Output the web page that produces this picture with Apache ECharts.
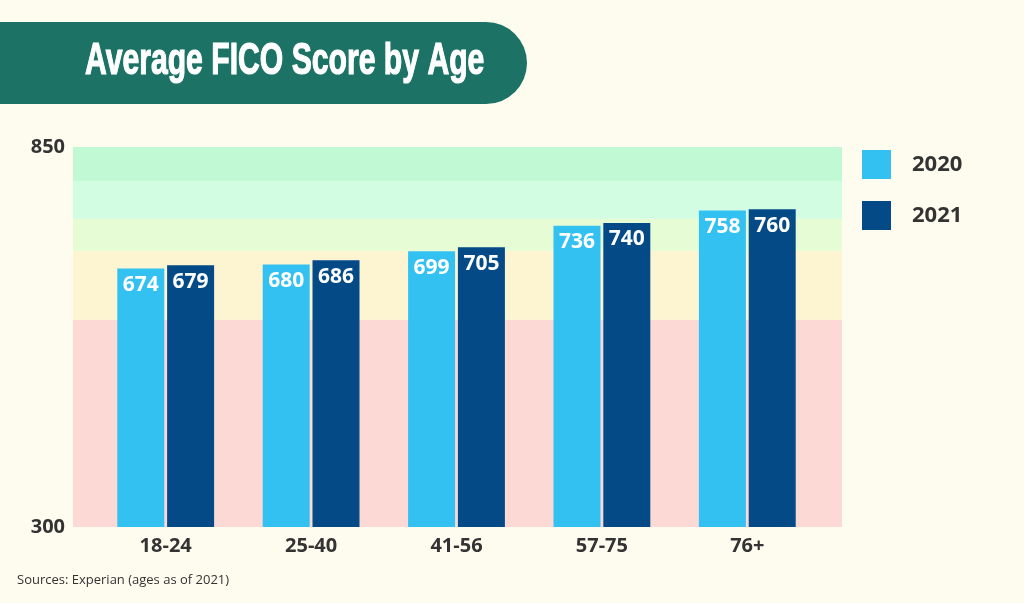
<!DOCTYPE html>
<html>
<head>
<meta charset="utf-8">
<script src="https://cdn.jsdelivr.net/npm/echarts@6/dist/echarts.min.js"></script>
<style>
  html, body { margin: 0; padding: 0; background: #fefcef; }
  #chart { width: 1024px; height: 603px; }
</style>
</head>
<body>
<div id="chart"></div>
<script>
const ageGroups = ['18-24', '25-40', '41-56', '57-75', '76+']
const scores2020 = [674, 680, 699, 736, 758]
const scores2021 = [679, 686, 705, 740, 760]
// score bands behind the bars (poor .. exceptional)
const bandEdges = [300, 600, 700, 746, 800, 850]
const bandColors = ['#fdd9d6', '#fdf4d2', '#e6fcd4', '#d2fde2', '#c0f9d4']

const chart = echarts.init(document.getElementById('chart'))

const bandAreas = bandColors.map((c, i) => [
  { yAxis: bandEdges[i], itemStyle: { color: c } },
  { yAxis: bandEdges[i + 1] }
])

const labelStyle = {
  show: true,
  position: 'insideTop',
  distance: 6,
  color: '#fff',
  fontFamily: 'Open Sans',
  fontWeight: 'bold',
  fontSize: 21
}

const option = {
  backgroundColor: '#fefcef',
  animation: false,
  graphic: [
    {
      type: 'rect',
      shape: { x: 0, y: 22, width: 527, height: 82, r: [0, 41, 41, 0] },
      style: { fill: '#1c7265' }
    },
    {
      type: 'text',
      x: 85,
      y: 62,
      scaleX: 0.67,
      style: {
        text: 'Average FICO Score by Age',
        fill: '#fff',
        stroke: '#fff',
        lineWidth: 1.2,
        font: 'bold 45px "Liberation Sans", Arial, sans-serif',
        verticalAlign: 'middle'
      }
    },
    {
      type: 'text',
      x: 17,
      y: 580,
      style: {
        text: 'Sources: Experian (ages as of 2021)',
        fill: '#333',
        font: '13px "Open Sans", sans-serif',
        verticalAlign: 'middle'
      }
    }
  ],
  legend: {
    data: ['2020', '2021'],
    orient: 'vertical',
    left: 862,
    top: 150,
    padding: 0,
    itemWidth: 29,
    itemHeight: 29,
    itemGap: 22,
    icon: 'rect',
    textStyle: {
      color: '#333',
      fontFamily: 'Open Sans',
      fontWeight: 'bold',
      fontSize: 22,
      padding: [0, 0, 0, 16]
    }
  },
  grid: [
    { left: 93, right: 204, top: 147, bottom: 76 },
    { left: 73, right: 182, top: 147, bottom: 76 }
  ],
  xAxis: [
    {
      type: 'category',
      gridIndex: 0,
      data: ageGroups,
      axisLine: { show: false },
      axisTick: { show: false },
      axisLabel: {
        color: '#333',
        fontFamily: 'Open Sans',
        fontWeight: 'bold',
        fontSize: 20,
        margin: 9
      }
    },
    { type: 'value', gridIndex: 1, min: 0, max: 1, show: false }
  ],
  yAxis: [
    { type: 'value', gridIndex: 0, min: 300, max: 850, show: false },
    {
      type: 'value',
      gridIndex: 1,
      min: 300,
      max: 850,
      interval: 50,
      axisLine: { show: false },
      axisTick: { show: false },
      splitLine: { show: false },
      axisLabel: {
        color: '#333',
        fontFamily: 'Open Sans',
        fontWeight: 'bold',
        fontSize: 20,
        margin: 8,
        formatter: v => (v === 300 || v === 850 ? String(v) : '')
      }
    }
  ],
  series: [
    {
      type: 'line',
      xAxisIndex: 1,
      yAxisIndex: 1,
      data: [],
      z: 1,
      silent: true,
      markArea: { silent: true, data: bandAreas }
    },
    {
      name: '2020',
      type: 'bar',
      xAxisIndex: 0,
      yAxisIndex: 0,
      data: scores2020,
      barWidth: 47,
      barGap: '6%',
      z: 3,
      itemStyle: { color: '#33c1f2' },
      label: labelStyle
    },
    {
      name: '2021',
      type: 'bar',
      xAxisIndex: 0,
      yAxisIndex: 0,
      data: scores2021,
      barWidth: 47,
      z: 3,
      itemStyle: { color: '#044a87' },
      label: labelStyle
    }
  ]
}

chart.setOption(option)
</script>
</body>
</html>
